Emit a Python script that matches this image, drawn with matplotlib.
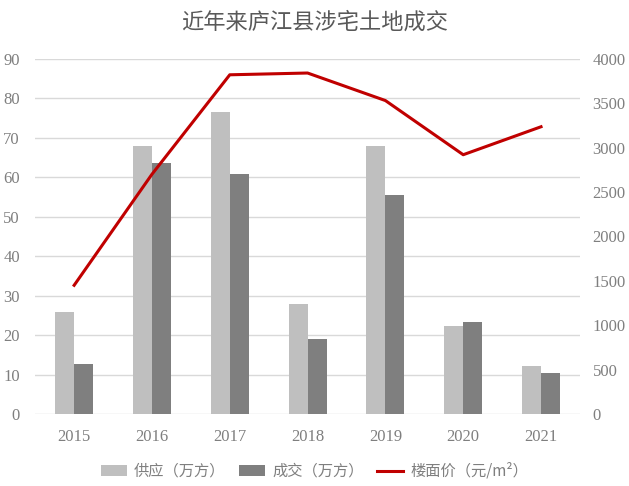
import matplotlib.pyplot as plt
import numpy as np

plt.rcParams['font.family'] = ['Liberation Serif', 'Noto Sans CJK SC', 'DejaVu Sans']

years = ['2015', '2016', '2017', '2018', '2019', '2020', '2021']
supply = [25.8, 68.0, 76.6, 28.0, 68.0, 22.2, 12.3]
deal = [12.8, 63.5, 60.7, 18.9, 55.4, 23.2, 10.3]
price = [1450, 2700, 3820, 3840, 3530, 2920, 3235]

text_color = '#7f7f7f'
grid_color = '#d9d9d9'
cjk = ['Noto Sans CJK SC', 'DejaVu Sans']

fig = plt.figure(figsize=(6.29, 4.86), dpi=100)
ax = fig.add_axes([0.056, 0.148, 0.866, 0.731])
ax2 = ax.twinx()

x = np.arange(len(years))
w = 0.245
ax.bar(x - w / 2, supply, w, color='#bfbfbf', label='供应（万方）', zorder=2)
ax.bar(x + w / 2, deal, w, color='#7f7f7f', label='成交（万方）', zorder=2)
ax2.plot(x, price, color='#c00000', lw=2.2, label='楼面价（元/m²）', zorder=3)

ax.set_xlim(-0.5, len(years) - 0.5)
ax.set_ylim(0, 90)
ax.set_yticks(range(0, 91, 10))
ax2.set_ylim(0, 4000)
ax2.set_yticks(range(0, 4001, 500))
ax.set_xticks(x)
ax.set_xticklabels(years)

ax.yaxis.grid(True, color=grid_color, lw=1, zorder=0)
ax.set_axisbelow(True)
for a in (ax, ax2):
    for s in a.spines.values():
        s.set_visible(False)
    a.tick_params(length=0, colors=text_color, labelsize=12)
ax.tick_params(axis='x', pad=11)
ax.tick_params(axis='y', pad=11)
ax2.tick_params(axis='y', pad=9)

fig.text(0.5, 0.955, '近年来庐江县涉宅土地成交', ha='center', va='center',
         fontsize=16, color='#595959', family=cjk, weight='light')

h1, l1 = ax.get_legend_handles_labels()
h2, l2 = ax2.get_legend_handles_labels()
leg = fig.legend(h1 + h2, l1 + l2, loc='center', bbox_to_anchor=(0.5, 0.03),
                 ncol=3, frameon=False, handlelength=1.7,
                 handleheight=0.7, columnspacing=0.9, handletextpad=0.45,
                 prop={'family': cjk, 'size': 11, 'weight': 'light'})
for t in leg.get_texts():
    t.set_color(text_color)

fig.savefig('out.png', dpi=100, facecolor='white')
